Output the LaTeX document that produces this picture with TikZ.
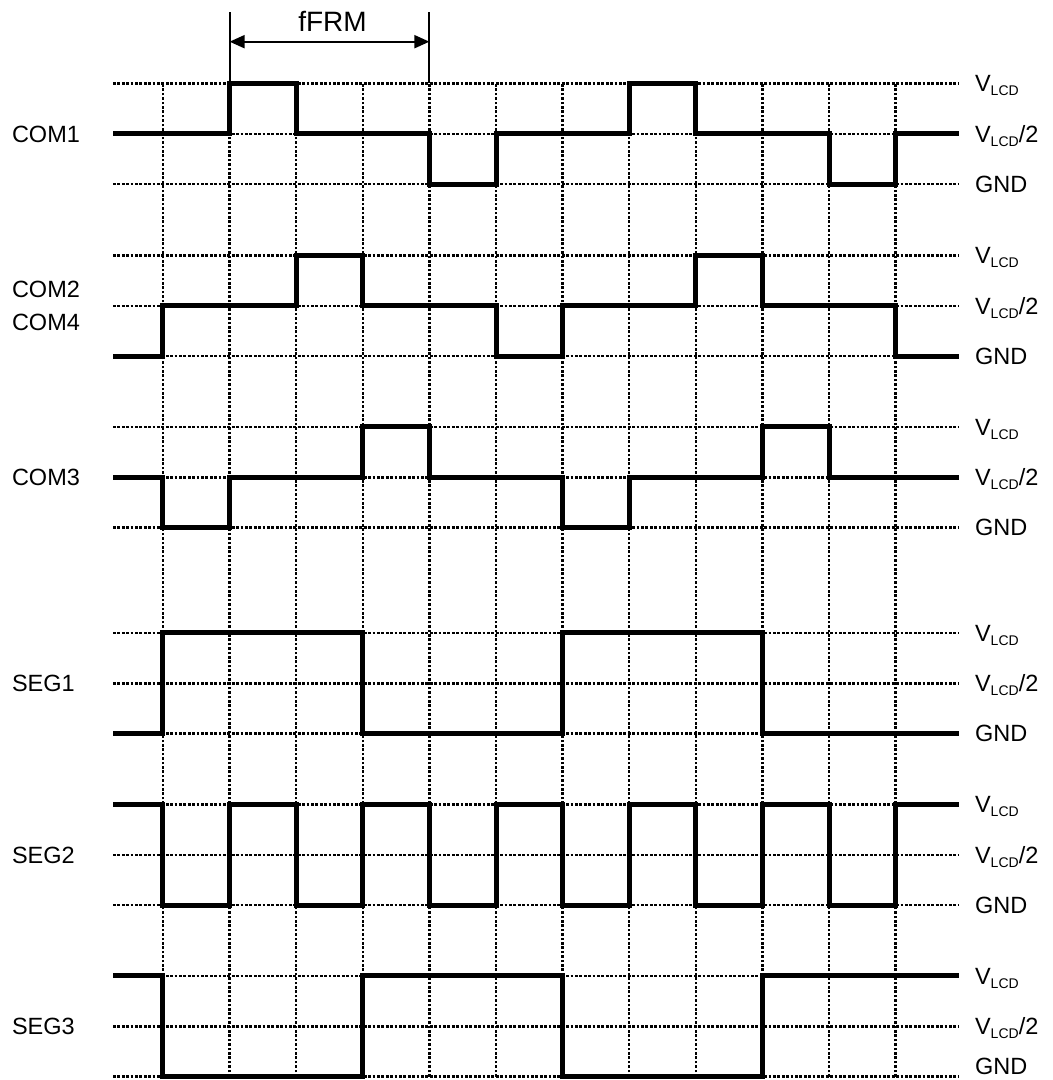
\documentclass[tikz,border=0pt]{standalone}
\usepackage{fontspec}
\setmainfont{Liberation Sans}
\usepackage{tikz}
\usetikzlibrary{arrows.meta}
\newcommand{\vlcd}{V\raisebox{-4pt}{\fontsize{14}{14}\selectfont LCD}}
\tikzset{sig/.style={line width=5pt}}
\tikzset{gridline/.style={line width=2.5pt, dash pattern=on 2.7pt off 1.7pt}}
\tikzset{signame/.style={anchor=base west, yshift=-8.3pt, inner sep=0pt, font=\fontsize{23.5}{33}\selectfont}}
\tikzset{lvl/.style={anchor=base west, xshift=16pt, yshift=-8.3pt, inner sep=0pt, font=\fontsize{23.5}{28}\selectfont}}

\begin{document}
\begin{tikzpicture}[x=66.6pt, y=1pt]
\useasboundingbox (-163pt,-3.3pt) rectangle (890pt,1076.7pt);
% time grid
\foreach \k in {0,...,11} {
\draw[gridline] (\k,0) -- (\k,993.3);
}
% levels and their names
\foreach \g/\sh/\gy in {com1/892.5pt/0pt, com24/720.5pt/0pt, com3/549pt/0pt, seg1/343pt/0pt, seg2/171.5pt/0pt, seg3/0pt/10pt} {
\begin{scope}[yshift=\sh, y=50.4pt]
\foreach \l in {0,1,2} {
\draw[gridline] (-0.75,\l) -- (11.95,\l);
}
\node[lvl] (\g-hi) at (11.95,2) {\vlcd};
\node[lvl] (\g-half) at (11.95,1) {\vlcd/2};
\node[lvl, yshift=\gy] (\g-gnd) at (11.95,0) {GND};
\end{scope}
}
% frame period
\coordinate (f1) at (1,993.3);
\coordinate (f4) at (4,993.3);
\draw[line width=2pt] (f1) -- ++(0,71);
\draw[line width=2pt] (f4) -- ++(0,71);
\coordinate (a1) at (1,1035);
\coordinate (a4) at (4,1035);
\draw[{Triangle[length=15pt,width=13pt]}-{Triangle[length=15pt,width=13pt]}, line width=2pt] (a1) -- (a4);
\node[anchor=base, inner sep=0pt, font=\fontsize{28}{28}\selectfont] (ffrm) at (2.545,1044.7) {fFRM};
% COM1
\begin{scope}[yshift=892.5pt, y=50.4pt]
\node[signame] (com1) at (-2.27,1) {COM1};
\draw[sig] (-0.75,1) -- (1,1) -- (1,2) -- (2,2) -- (2,1) -- (4,1) -- (4,0) -- (5,0) -- (5,1) -- (7,1) -- (7,2) -- (8,2) -- (8,1) -- (10,1) -- (10,0) -- (11,0) -- (11,1) -- (11.95,1);
\end{scope}
% COM2, COM4
\begin{scope}[yshift=720.5pt, y=50.4pt]
\node[anchor=west, inner sep=0pt, align=left, font=\fontsize{23.5}{33}\selectfont] (com24) at (-2.27,1) {COM2\\COM4};
\draw[sig] (-0.75,0) -- (0,0) -- (0,1) -- (2,1) -- (2,2) -- (3,2) -- (3,1) -- (5,1) -- (5,0) -- (6,0) -- (6,1) -- (8,1) -- (8,2) -- (9,2) -- (9,1) -- (11,1) -- (11,0) -- (11.95,0);
\end{scope}
% COM3
\begin{scope}[yshift=549pt, y=50.4pt]
\node[signame] (com3) at (-2.27,1) {COM3};
\draw[sig] (-0.75,1) -- (0,1) -- (0,0) -- (1,0) -- (1,1) -- (3,1) -- (3,2) -- (4,2) -- (4,1) -- (6,1) -- (6,0) -- (7,0) -- (7,1) -- (9,1) -- (9,2) -- (10,2) -- (10,1) -- (11.95,1);
\end{scope}
% SEG1
\begin{scope}[yshift=343pt, y=50.4pt]
\node[signame] (seg1) at (-2.27,1) {SEG1};
\draw[sig] (-0.75,0) -- (0,0) -- (0,2) -- (3,2) -- (3,0) -- (6,0) -- (6,2) -- (9,2) -- (9,0) -- (11.95,0);
\end{scope}
% SEG2
\begin{scope}[yshift=171.5pt, y=50.4pt]
\node[signame] (seg2) at (-2.27,1) {SEG2};
\draw[sig] (-0.75,2) -- (0,2) -- (0,0) -- (1,0) -- (1,2) -- (2,2) -- (2,0) -- (3,0) -- (3,2) -- (4,2) -- (4,0) -- (5,0) -- (5,2) -- (6,2) -- (6,0) -- (7,0) -- (7,2) -- (8,2) -- (8,0) -- (9,0) -- (9,2) -- (10,2) -- (10,0) -- (11,0) -- (11,2) -- (11.95,2);
\end{scope}
% SEG3
\begin{scope}[yshift=0pt, y=50.4pt]
\node[signame] (seg3) at (-2.27,1) {SEG3};
\draw[sig] (-0.75,2) -- (0,2) -- (0,0) -- (3,0) -- (3,2) -- (6,2) -- (6,0) -- (9,0) -- (9,2) -- (11.95,2);
\end{scope}
\end{tikzpicture}
\end{document}
